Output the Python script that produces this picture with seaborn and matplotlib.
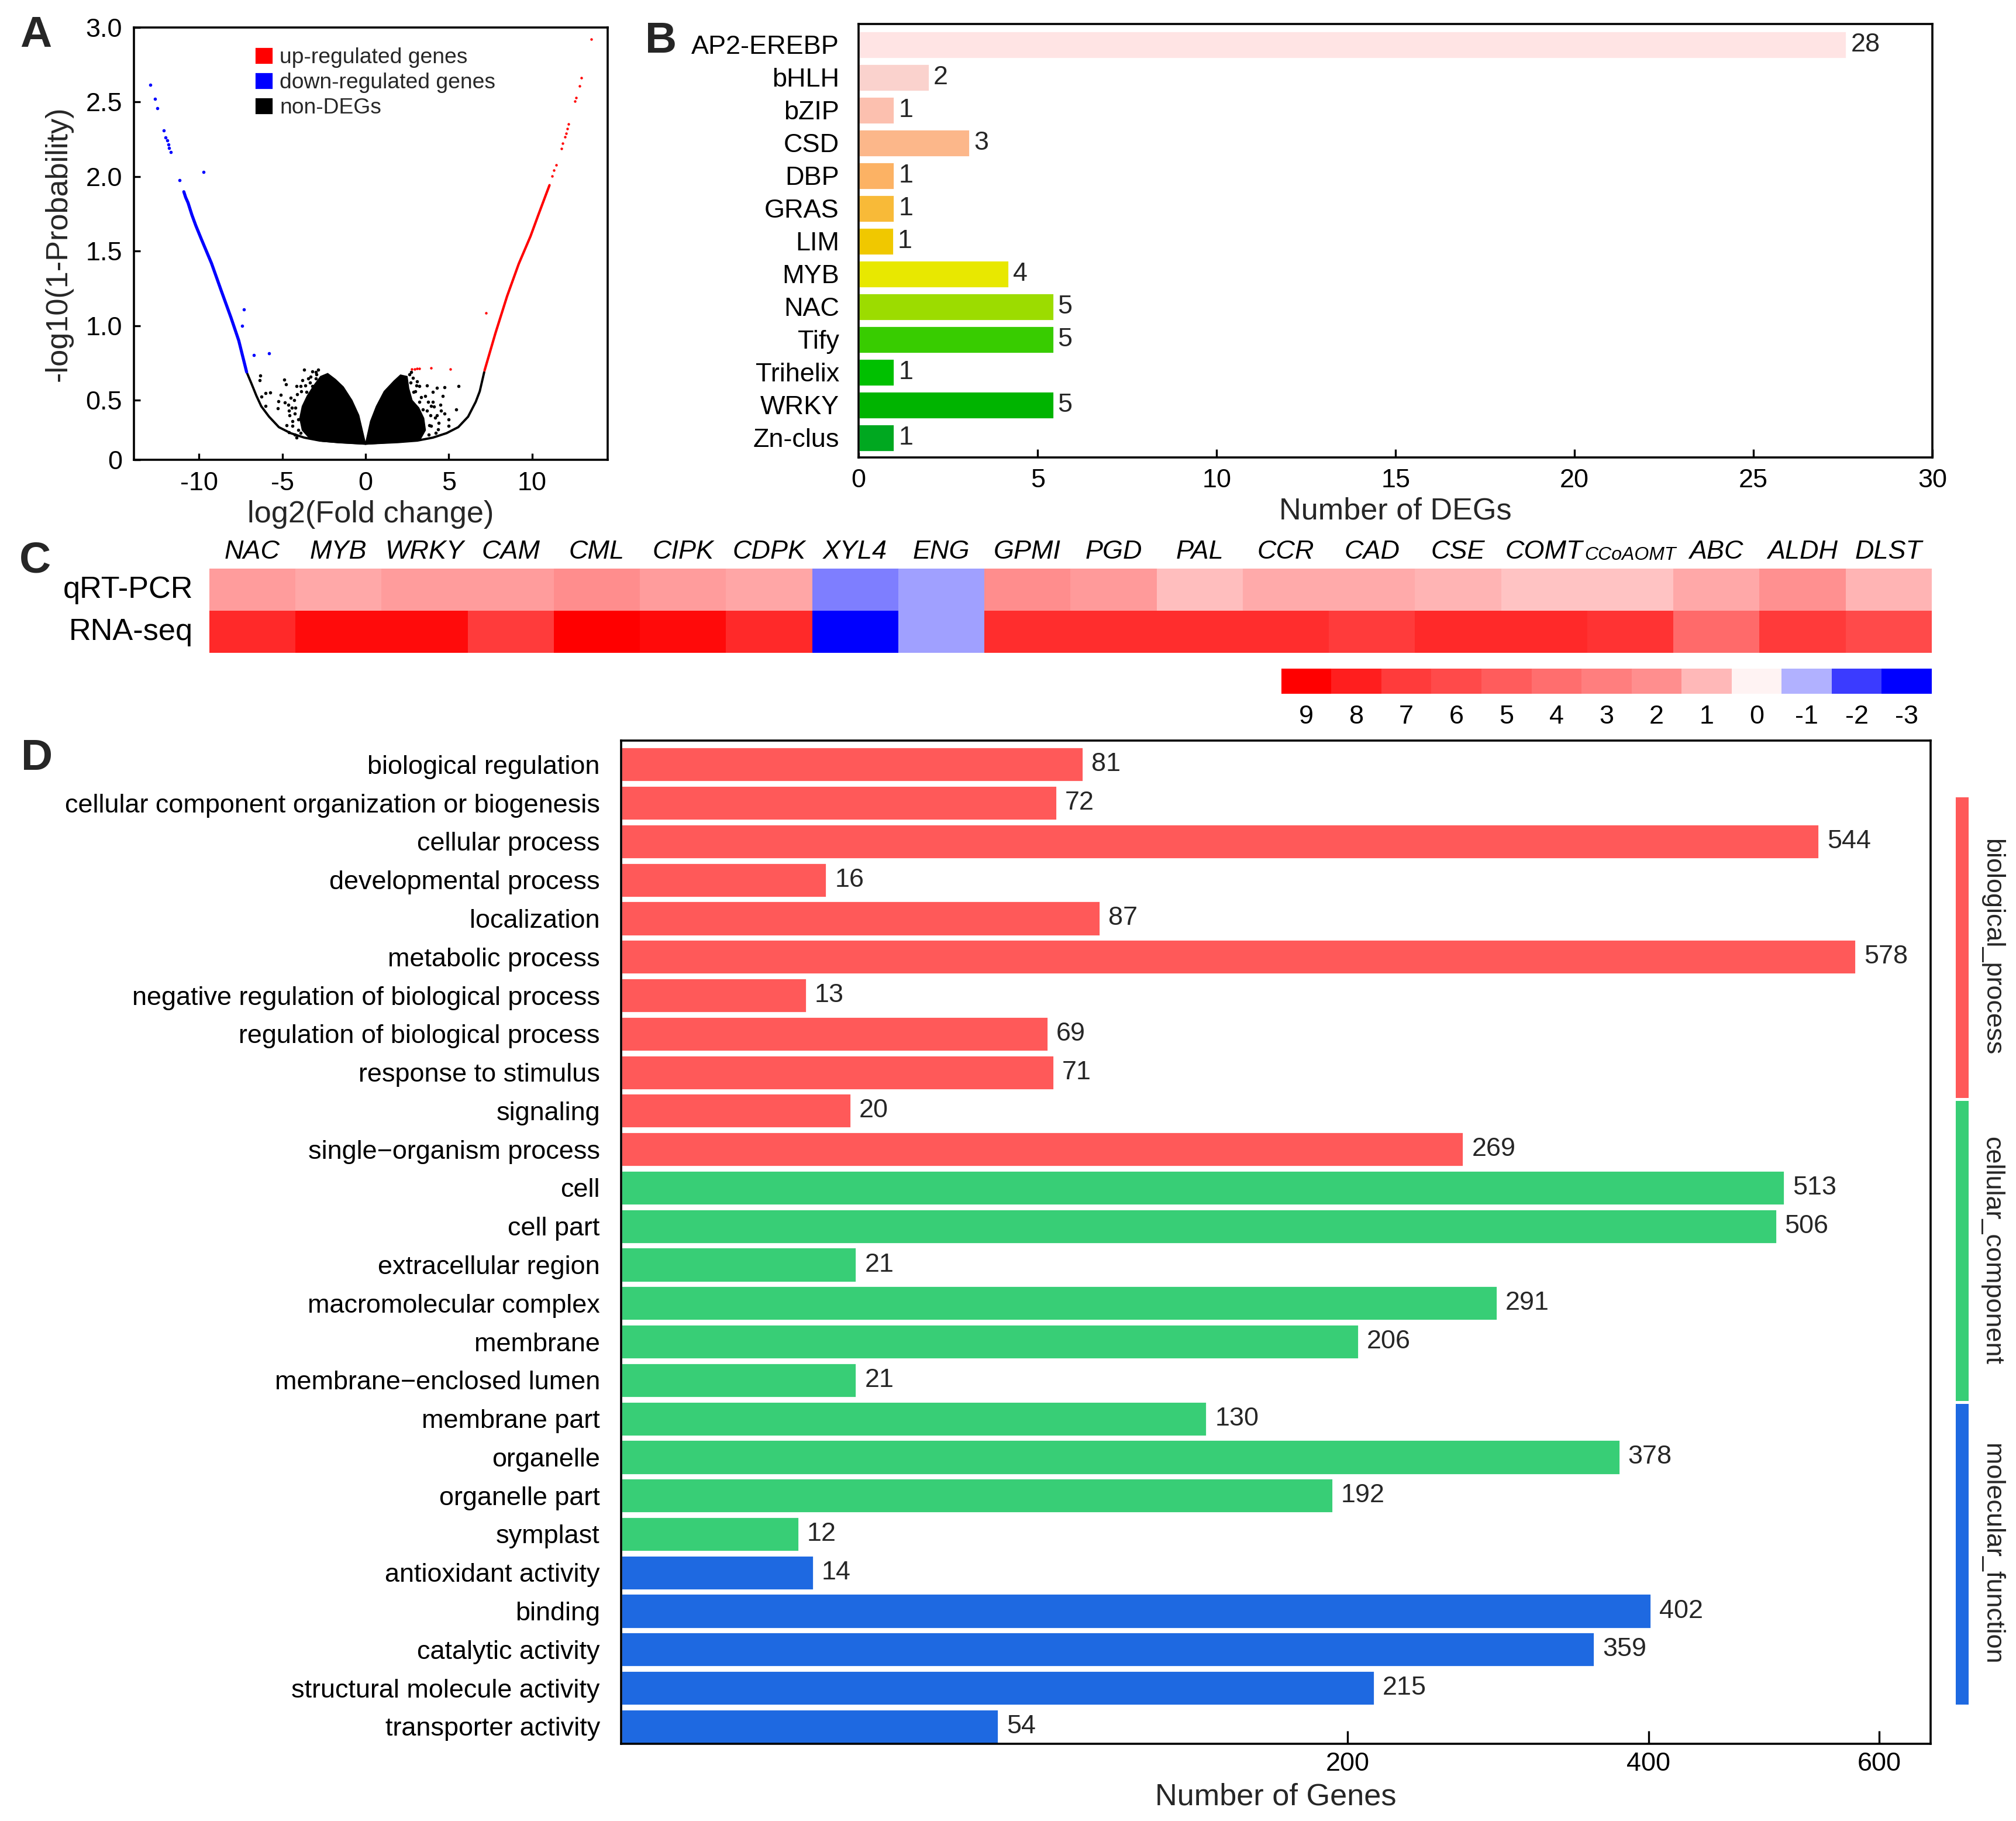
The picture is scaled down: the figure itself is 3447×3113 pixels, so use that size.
import numpy as np
import pandas as pd
import seaborn as sns
import matplotlib.pyplot as plt
from matplotlib.colors import LinearSegmentedColormap, ListedColormap
from matplotlib.patches import Patch
from matplotlib.ticker import NullLocator

# ---------------- data ----------------
# A: volcano plot
up_line_x = [7.15, 7.80, 8.50, 9.20, 9.91, 10.37, 10.84, 11.05]
up_line_y = [0.70, 0.949, 1.197, 1.414, 1.60, 1.74, 1.88, 1.942]
up_pts_x = [11.19, 11.31, 11.45, 11.75, 11.84, 11.98, 12.05, 12.13, 12.20, 12.57,
            12.66, 12.84, 12.97, 13.56, 7.24, 2.76, 2.94, 3.11, 3.23, 3.93, 5.10]
up_pts_y = [2.004, 2.042, 2.078, 2.187, 2.221, 2.267, 2.291, 2.322, 2.353, 2.503,
            2.528, 2.608, 2.661, 2.919, 1.085, 0.708, 0.710, 0.712, 0.712, 0.715, 0.710]
down_line_x = [-7.14, -7.61, -8.08, -8.67, -9.25, -9.83, -10.19, -10.42, -10.66, -10.80, -10.91]
down_line_y = [0.69, 0.90, 1.055, 1.237, 1.419, 1.573, 1.671, 1.741, 1.825, 1.860, 1.898]
down_pts_x = [-11.15, -11.71, -11.79, -11.85, -11.92, -12.00, -12.12, -12.49, -12.65, -12.92,
              -9.74, -7.32, -7.40, -6.71, -5.80]
down_pts_y = [1.974, 2.164, 2.190, 2.213, 2.241, 2.262, 2.309, 2.456, 2.519, 2.613,
              2.031, 1.108, 0.999, 0.803, 0.814]
# lower envelope of the non-DEG cloud
env_x = [-7.14, -6.84, -6.55, -6.26, -5.79, -5.20, -4.50, -3.68, -2.74, -1.57, 0.0,
         1.94, 3.11, 4.05, 4.87, 5.57, 6.16, 6.62, 6.86, 7.13]
env_y = [0.69, 0.61, 0.53, 0.46, 0.39, 0.32, 0.28, 0.25, 0.23, 0.22, 0.21,
         0.22, 0.23, 0.25, 0.28, 0.32, 0.39, 0.49, 0.56, 0.69]
# dense cores of the non-DEG cloud
core_l_x = [0.0, -0.40, -0.81, -1.33, -1.80, -2.27, -2.70, -3.10, -3.50, -3.80, -3.95,
            -3.80, -3.40, -2.60, -1.60, 0.0]
core_l_y = [0.21, 0.40, 0.50, 0.59, 0.64, 0.68, 0.66, 0.60, 0.53, 0.46, 0.38,
            0.30, 0.25, 0.225, 0.215, 0.205]
core_r_x = [0.0, 0.30, 0.65, 1.12, 1.71, 2.10, 2.50, 2.60, 2.80, 3.20, 3.50, 3.60, 3.30, 2.00, 0.0]
core_r_y = [0.21, 0.36, 0.46, 0.56, 0.63, 0.67, 0.66, 0.58, 0.50, 0.45, 0.38, 0.30, 0.24, 0.22, 0.205]
# scattered non-DEGs around the cores
non_x = [-6.31, -6.37, -6.02, -5.73, -6.25, -5.99, -5.26, -4.87, -4.79, -5.08, -5.22, -4.85,
         -4.73, -4.61, -3.91, -4.50, -4.15, -3.80, -3.44, -3.68, -3.21, -2.86, -4.44, -4.26,
         -4.03, -4.38, -3.91, -3.56, -3.21, -2.97, -4.20, -4.05, -4.30, -4.10, -4.55, -3.00,
         -3.30, -3.60, -4.60, -4.40, -4.25, -3.85, -2.95, -3.35, -4.15, -4.65,
         3.11, 3.70, 4.05, 4.28, 4.75, 4.63, 4.52, 4.75, 4.99, 4.34, 5.57, 5.45, 4.99, 4.17,
         3.93, 3.58, 3.23, 3.46, 3.82, 2.88, 3.23, 4.05, 4.28, 2.64, 3.46, 3.80, 3.00, 2.70,
         3.90, 3.95, 4.10, 2.85, 3.35, 3.75, 4.40, 4.20, 3.70, 4.50, 2.75, 3.05]
non_y = [0.667, 0.634, 0.549, 0.552, 0.523, 0.464, 0.447, 0.640, 0.608, 0.536, 0.493, 0.484,
         0.333, 0.287, 0.281, 0.516, 0.595, 0.634, 0.647, 0.706, 0.693, 0.706, 0.451, 0.412,
         0.372, 0.359, 0.595, 0.555, 0.595, 0.647, 0.450, 0.300, 0.500, 0.540, 0.400, 0.690,
         0.660, 0.600, 0.430, 0.330, 0.270, 0.560, 0.675, 0.620, 0.250, 0.470,
         0.627, 0.601, 0.555, 0.582, 0.588, 0.529, 0.431, 0.412, 0.372, 0.307, 0.597, 0.440,
         0.327, 0.385, 0.464, 0.529, 0.595, 0.307, 0.333, 0.555, 0.490, 0.490, 0.399, 0.673,
         0.438, 0.270, 0.560, 0.620, 0.400, 0.330, 0.460, 0.650, 0.520, 0.490, 0.350, 0.280,
         0.430, 0.470, 0.690, 0.600]

# B: transcription factor families
families = ['AP2-EREBP', 'bHLH', 'bZIP', 'CSD', 'DBP', 'GRAS', 'LIM', 'MYB', 'NAC',
            'Tify', 'Trihelix', 'WRKY', 'Zn-clus']
deg_n = [28, 2, 1, 3, 1, 1, 1, 4, 5, 5, 1, 5, 1]
deg_len = [27.6, 1.97, 1.0, 3.1, 1.0, 1.0, 0.98, 4.2, 5.45, 5.45, 1.0, 5.45, 1.0]
family_colors = ['#FFE4E4', '#FAD2CD', '#FCC0AF', '#FCB78A', '#FCB264', '#F8BA38', '#F0C800',
                 '#E8E800', '#9CDC00', '#38CC00', '#00C000', '#00B400', '#00A820']

# C: qRT-PCR vs RNA-seq
genes = ['NAC', 'MYB', 'WRKY', 'CAM', 'CML', 'CIPK', 'CDPK', 'XYL4', 'ENG', 'GPMI', 'PGD',
         'PAL', 'CCR', 'CAD', 'CSE', 'COMT', 'CCoAOMT', 'ABC', 'ALDH', 'DLST']
methods = ['qRT-PCR', 'RNA-seq']
qrt_pcr = [1.67, 1.38, 1.67, 1.67, 2.05, 1.67, 1.45, -1.43, -1.17, 2.05, 1.71,
           0.93, 1.33, 1.33, 1.12, 0.82, 0.82, 1.38, 1.95, 1.08]
rna_seq = [7.6, 8.6, 8.6, 7.0, 9.0, 8.67, 7.6, -3.0, -1.17, 7.47, 7.47,
           7.47, 7.47, 7.0, 7.6, 7.6, 7.27, 4.2, 7.07, 6.0]
scale_vals = [9, 8, 7, 6, 5, 4, 3, 2, 1, 0, -1, -2, -3]
scale_colors = ['#FF0000', '#FF1E1E', '#FF3C3C', '#FF4A4A', '#FF5C5C', '#FF6E6E', '#FF7E7E',
                '#FF8E8E', '#FFB8B8', '#FFF4F4', '#B4B4FF', '#3C3CFF', '#0000FF']

# D: GO classification
go_terms = ['biological regulation', 'cellular component organization or biogenesis',
            'cellular process', 'developmental process', 'localization', 'metabolic process',
            'negative regulation of biological process', 'regulation of biological process',
            'response to stimulus', 'signaling', 'single\u2212organism process',
            'cell', 'cell part', 'extracellular region', 'macromolecular complex', 'membrane',
            'membrane\u2212enclosed lumen', 'membrane part', 'organelle', 'organelle part',
            'symplast',
            'antioxidant activity', 'binding', 'catalytic activity',
            'structural molecule activity', 'transporter activity']
go_counts = [81, 72, 544, 16, 87, 578, 13, 69, 71, 20, 269,
             513, 506, 21, 291, 206, 21, 130, 378, 192, 12,
             14, 402, 359, 215, 54]
go_groups = ['biological_process'] * 11 + ['cellular_component'] * 10 + ['molecular_function'] * 5
group_names = ['biological_process', 'cellular_component', 'molecular_function']
group_colors = ['#FF5959', '#38CE76', '#1E69E1']

# ---------------- style ----------------
sns.set_theme(style='white')
plt.rcParams['font.family'] = ['Liberation Sans', 'DejaVu Sans']
plt.rcParams['axes.unicode_minus'] = False
plt.rcParams['axes.edgecolor'] = 'black'
plt.rcParams['axes.linewidth'] = 1.3

TICK = 16.2
LAB = 18.8

fig = plt.figure(figsize=(17.24, 15.565), dpi=200)

# ---------------- A ----------------
axA = fig.add_axes([0.0663, 0.7474, 0.2351, 0.2376])
axA.fill(core_l_x, core_l_y, color='black', lw=0.6)
axA.fill(core_r_x, core_r_y, color='black', lw=0.6)
sns.scatterplot(x=non_x, y=non_y, color='black', s=4, linewidth=0, ax=axA)
sns.lineplot(x=env_x, y=env_y, sort=False, color='black', lw=1.4, ax=axA)
sns.lineplot(x=down_line_x, y=down_line_y, sort=False, color='#0000FF', lw=1.9, ax=axA)
sns.scatterplot(x=down_pts_x, y=down_pts_y, color='#0000FF', s=4, linewidth=0, ax=axA)
sns.lineplot(x=up_line_x, y=up_line_y, sort=False, color='#FF0000', lw=1.5, ax=axA)
sns.scatterplot(x=up_pts_x, y=up_pts_y, color='#FF0000', s=2.5, linewidth=0, ax=axA)
axA.set_xlim(-13.92, 14.55)
axA.set_ylim(0.1, 3.0)
axA.set_xticks([-10, -5, 0, 5, 10])
axA.set_yticks([0.1, 0.5, 1.0, 1.5, 2.0, 2.5, 3.0])
axA.set_yticklabels(['0', '0.5', '1.0', '1.5', '2.0', '2.5', '3.0'])
axA.tick_params(direction='in', length=4, width=1.2, labelsize=TICK, pad=7,
                bottom=True, left=True, colors='black')
axA.set_xlabel('log2(Fold change)', fontsize=LAB, labelpad=3)
axA.set_ylabel('-log10(1-Probability)', fontsize=LAB, labelpad=8)
handles = [Patch(facecolor='#FF0000'), Patch(facecolor='#0000FF'), Patch(facecolor='black')]
axA.legend(handles, ['up-regulated genes', 'down-regulated genes', 'non-DEGs'],
           loc='upper left', bbox_to_anchor=(0.255, 0.955), frameon=False, fontsize=13.4,
           handlelength=0.85, handleheight=0.85, handletextpad=0.3, labelspacing=0.2,
           borderpad=0, borderaxespad=0)

# ---------------- B ----------------
axB = fig.add_axes([0.4258, 0.7488, 0.5325, 0.2380])
sns.barplot(x=deg_len, y=families, hue=families, palette=family_colors, width=0.85,
            saturation=1, legend=False, ax=axB)
for cont, n in zip(axB.containers, deg_n):
    axB.bar_label(cont, labels=[str(n)], padding=2.5, fontsize=TICK)
axB.set_xlim(0, 30)
axB.set_ylim(12.6, -0.63)
axB.set_xticks(range(0, 31, 5))
axB.tick_params(axis='x', direction='in', length=5, width=1.2, labelsize=TICK, pad=7,
                bottom=True, colors='black')
axB.tick_params(axis='y', length=0, labelsize=TICK, pad=12, colors='black')
axB.set_xlabel('Number of DEGs', fontsize=LAB, labelpad=2.5)
axB.set_ylabel('')

# ---------------- C ----------------
ordered = sorted(zip(scale_vals, scale_colors))
cmap = LinearSegmentedColormap.from_list(
    'qpcr', [((v + 3) / 12, c) for v, c in ordered])
heat = pd.DataFrame([qrt_pcr, rna_seq], index=methods, columns=genes)
axC = fig.add_axes([0.1038, 0.6415, 0.8541, 0.04626])
sns.heatmap(heat, cmap=cmap, vmin=-3, vmax=9, cbar=False, ax=axC)
axC.xaxis.tick_top()
axC.tick_params(axis='x', length=0, pad=3, labelsize=TICK, colors='black')
axC.tick_params(axis='y', length=0, pad=10, labelsize=LAB, colors='black')
for lbl in axC.get_xticklabels():
    lbl.set_style('italic')
    lbl.set_rotation(0)
    if lbl.get_text() == 'CCoAOMT':
        lbl.set_fontsize(11.5)
for lbl in axC.get_yticklabels():
    lbl.set_rotation(0)

axS = fig.add_axes([0.6354, 0.6190, 0.3225, 0.01381])
sns.heatmap([scale_vals], cmap=cmap, vmin=-3, vmax=9, cbar=False,
            xticklabels=[str(v) for v in scale_vals], yticklabels=False, ax=axS)
axS.tick_params(axis='x', length=0, pad=7, labelsize=TICK, colors='black')

# ---------------- D ----------------
go = pd.DataFrame({'term': go_terms, 'count': go_counts, 'group': go_groups})
axD = fig.add_axes([0.3080, 0.0424, 0.6494, 0.5509])
sns.barplot(data=go, x='count', y='term', hue='group', hue_order=group_names,
            palette=group_colors, width=0.9, saturation=1, legend=False, ax=axD)
axD.set_xscale('function', functions=(lambda v: np.sqrt(np.maximum(v, 0)), lambda v: v ** 2))
axD.set_xlim(0, 650)
axD.set_ylim(25.45, -0.62)
axD.set_xticks([200, 400, 600])
axD.set_xticklabels(['200', '400', '600'])
axD.xaxis.set_minor_locator(NullLocator())
for cont in axD.containers:
    axD.bar_label(cont, fmt='%d', padding=5, fontsize=TICK)
axD.tick_params(axis='x', direction='in', length=8, width=1.2, labelsize=TICK, pad=5,
                bottom=True, colors='black')
axD.tick_params(axis='y', length=0, labelsize=TICK, pad=13, colors='black')
axD.set_xlabel('Number of Genes', fontsize=LAB, labelpad=4)
axD.set_ylabel('')

axG = fig.add_axes([0.9690, 0.0633, 0.00783, 0.4998])
sns.heatmap(np.array([[0], [1], [2]]), cmap=ListedColormap(group_colors), cbar=False,
            xticklabels=False, yticklabels=False, linewidths=1.2, linecolor='white', ax=axG)
for i, name in enumerate(group_names):
    axG.text(2.4, i + 0.5, name, rotation=-90, ha='center', va='center',
             fontsize=TICK, clip_on=False)

# ---------------- panel letters ----------------
for letter, x, y in [('A', 0.0099, 0.9916), ('B', 0.3199, 0.9884),
                     ('C', 0.0096, 0.7029), ('D', 0.0104, 0.5946)]:
    fig.text(x, y, letter, ha='left', va='top', fontsize=27, fontweight='bold')

fig.savefig('out.png', dpi=200)
